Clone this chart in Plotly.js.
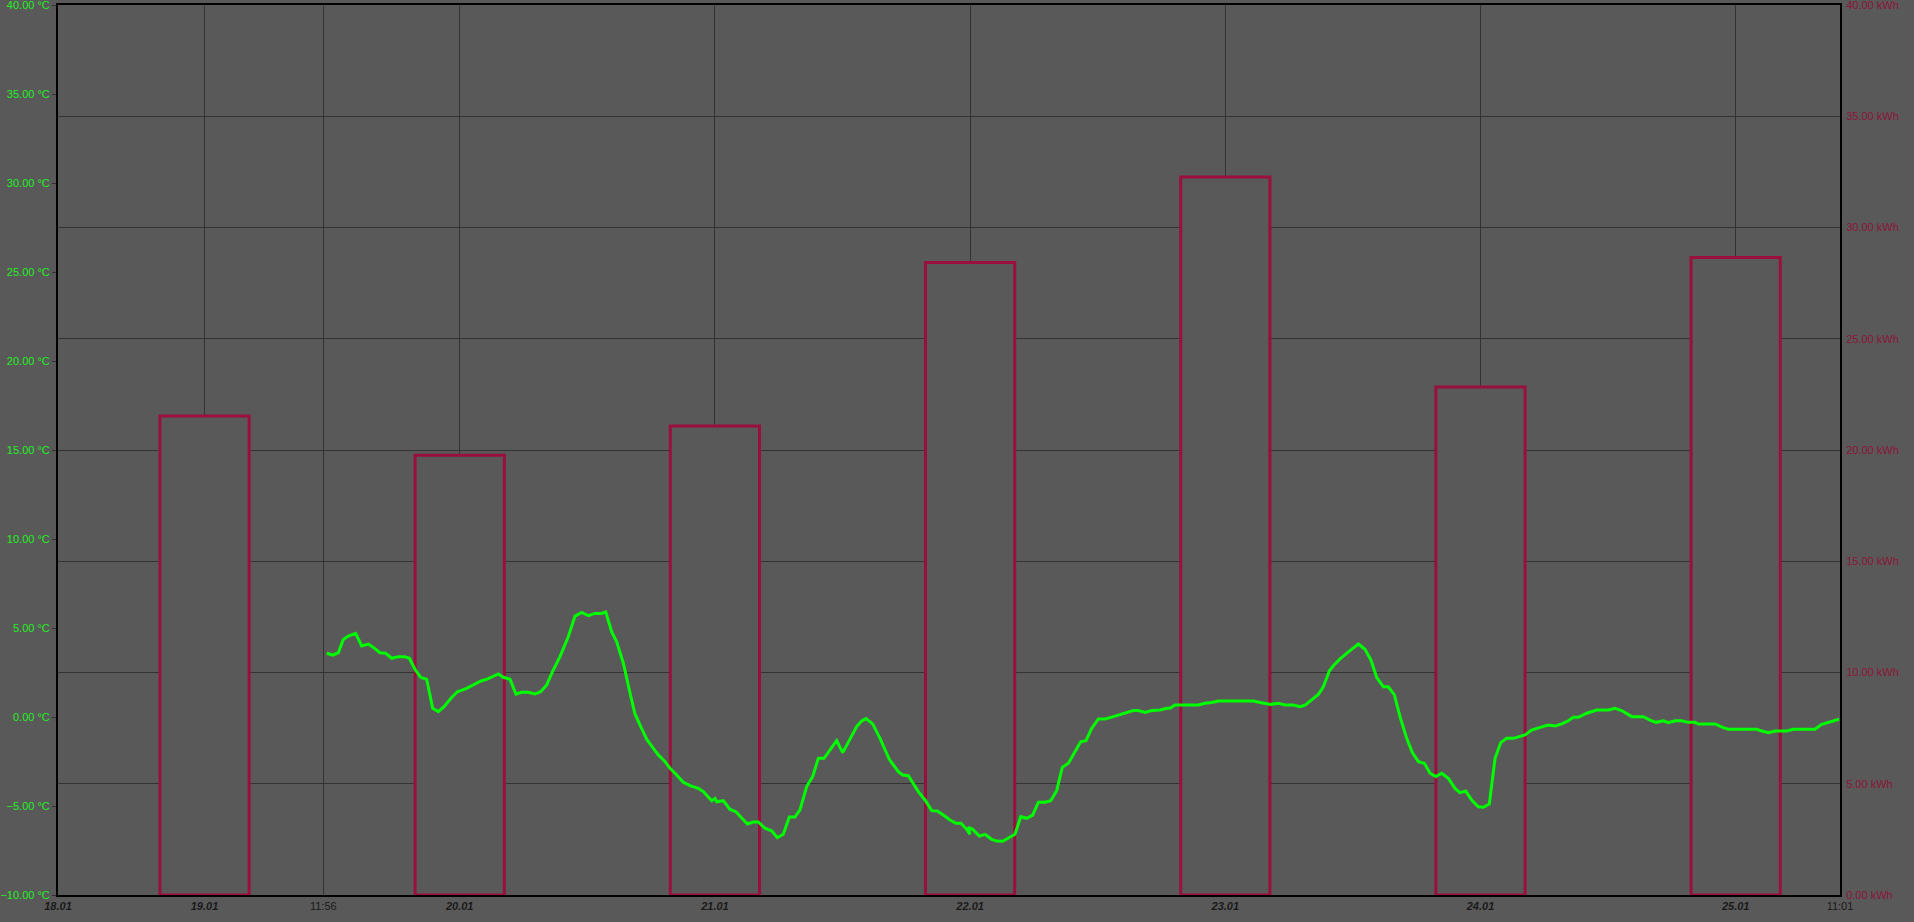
<!DOCTYPE html>
<html>
<head>
<meta charset="utf-8">
<script src="https://cdn.plot.ly/plotly-3.0.1.min.js"></script>
<style>
  html, body { margin: 0; padding: 0; background: #595959; }
  #chart { width: 1914px; height: 922px; }
</style>
</head>
<body>
<div id="chart"></div>
<script>
// X axis: hours since the start of the visible window (18.01 ... 11:01)
const tickHours  = [0, 13.78, 24.95, 37.78, 61.78, 85.78, 109.78, 133.78, 157.78, 167.59];
const tickLabels = ['<b><i>18.01</i></b>', '<b><i>19.01</i></b>', '11:56', '<b><i>20.01</i></b>',
                    '<b><i>21.01</i></b>', '<b><i>22.01</i></b>', '<b><i>23.01</i></b>',
                    '<b><i>24.01</i></b>', '<b><i>25.01</i></b>', '11:01'];

// Daily energy (kWh), one bar per day
const barDays   = ['19.01', '20.01', '21.01', '22.01', '23.01', '24.01', '25.01'];
const barHours  = [13.78, 37.78, 61.78, 85.78, 109.78, 133.78, 157.78];
const energyKWh = [21.53, 19.76, 21.08, 28.43, 32.27, 22.83, 28.65];

// Temperature (°C) over time (hours)
const tempHours = [
  25.27, 25.83, 26.36, 26.83, 27.30, 27.99, 28.56, 29.19, 29.66, 30.28, 30.82, 31.38, 32.01, 32.63, 33.04,
  33.57, 34.11, 34.67, 35.24, 35.77, 36.30, 37.02, 37.56, 38.43, 39.06, 39.84, 40.31, 40.94, 41.41, 41.88,
  42.51, 43.07, 43.61, 44.23, 44.86, 45.39, 45.96, 46.58, 47.21, 47.99, 48.62, 49.25, 49.88, 50.50, 51.13,
  51.51, 52.07, 52.54, 53.17, 53.73, 54.26, 54.74, 55.36, 55.99, 56.46, 57.09, 57.56, 58.18, 58.81, 59.44,
  60.22, 60.69, 61.48, 61.79, 61.95, 62.57, 63.20, 63.76, 64.30, 64.83, 65.39, 65.86, 66.49, 67.12, 67.65,
  68.21, 68.78, 69.31, 69.78, 70.41, 70.97, 71.51, 72.04, 72.60,
  73.23, 73.80, 74.48, 75.11, 75.58, 75.99, 76.62, 77.31, 78.18, 79.03, 79.44, 79.97, 80.91, 81.54, 82.17,
  82.70, 83.26, 83.89, 84.45, 84.92, 85.46, 85.77, 85.61, 86.02, 86.65, 87.18, 87.81, 88.28, 88.84, 89.47,
  90.00, 90.54, 91.10, 91.66, 92.20, 92.82, 93.36, 93.92, 94.45, 95.02, 95.65, 96.18, 96.68, 97.21, 97.84,
  98.47, 99.25, 100.19, 101.13, 101.60, 102.23, 102.86, 103.64, 104.27, 104.58, 105.05, 105.83, 107.24, 107.87, 108.50,
  109.13, 110.54, 112.42, 113.05, 113.67, 114.05, 114.77, 115.40, 116.18, 116.81, 117.28, 117.90, 118.53, 119.00, 119.56,
  119.94, 120.57,
  121.51, 122.29, 122.92, 123.48, 124.01, 124.64, 125.11, 125.68, 126.21, 126.84, 127.37, 127.94, 128.50, 129.03, 129.57,
  130.13, 130.76, 131.38, 131.85, 132.39, 132.95, 133.58, 134.05, 134.61, 135.15, 135.68, 136.24, 136.87, 137.97, 138.59,
  139.38, 140.16, 140.79, 141.42, 142.04, 142.51, 142.98, 143.77, 144.71, 145.81, 146.43, 147.06, 148.00, 149.10, 149.72,
  150.29, 150.98, 151.45, 152.07, 152.70, 153.33, 153.95, 154.27, 155.84, 156.62, 157.09, 157.72, 159.76, 160.23, 160.86,
  161.48, 162.58, 163.20, 165.24, 165.87, 166.81, 167.50
];
const tempValues = [
  3.58, 3.48, 3.61, 4.36, 4.55, 4.70, 3.99, 4.10, 3.91, 3.61, 3.58, 3.30, 3.39, 3.39, 3.30,
  2.68, 2.23, 2.12, 0.49, 0.30, 0.58, 1.10, 1.42, 1.61, 1.80, 2.04, 2.12, 2.30, 2.42, 2.23,
  2.12, 1.29, 1.39, 1.39, 1.29, 1.42, 1.80, 2.64, 3.39, 4.51, 5.67, 5.88, 5.69, 5.82, 5.82,
  5.90, 4.79, 4.23, 3.02, 1.52, 0.17, -0.45, -1.25, -1.76, -2.13, -2.51, -2.88, -3.26, -3.67, -3.86,
  -4.01, -4.19, -4.70, -4.57, -4.76, -4.70, -5.19, -5.32, -5.69, -6.01, -5.90, -5.90, -6.25, -6.39, -6.78,
  -6.59, -5.62, -5.62, -5.22, -3.91, -3.35, -2.32, -2.32, -1.82,
  -1.33, -2.00, -1.20, -0.54, -0.22, -0.09, -0.39, -1.20, -2.38, -3.07, -3.26, -3.30, -4.19, -4.66, -5.26,
  -5.28, -5.51, -5.79, -5.97, -5.97, -6.31, -6.59, -6.20, -6.31, -6.69, -6.59, -6.87, -6.97, -6.98, -6.78,
  -6.59, -5.60, -5.69, -5.51, -4.79, -4.79, -4.70, -4.14, -2.83, -2.60, -1.95, -1.39, -1.33, -0.64, -0.11,
  -0.11, 0.02, 0.17, 0.36, 0.36, 0.26, 0.36, 0.39, 0.49, 0.49, 0.67, 0.67, 0.67, 0.77, 0.81,
  0.90, 0.90, 0.90, 0.81, 0.77, 0.71, 0.77, 0.67, 0.67, 0.58, 0.67, 0.96, 1.27, 1.70, 2.58,
  2.88, 3.26,
  3.73, 4.10, 3.80, 3.20, 2.23, 1.70, 1.70, 1.24, 0.02, -1.20, -2.00, -2.51, -2.60, -3.16, -3.35,
  -3.16, -3.45, -4.01, -4.25, -4.16, -4.66, -5.04, -5.07, -4.89, -2.32, -1.44, -1.20, -1.20, -1.01, -0.73,
  -0.58, -0.45, -0.51, -0.39, -0.21, -0.02, -0.02, 0.21, 0.39, 0.39, 0.49, 0.36, 0.02, 0.02, -0.17,
  -0.30, -0.21, -0.32, -0.21, -0.21, -0.30, -0.30, -0.39, -0.39, -0.60, -0.69, -0.69, -0.69, -0.79, -0.88,
  -0.79, -0.79, -0.69, -0.69, -0.41, -0.26, -0.13
];

const BG = '#595959';
const GRID = '#333333';
const CRIMSON = '#9b0f3c';
const GREEN = '#00ff00';
const FONT = 'Liberation Sans, Arial, sans-serif';

const traces = [
  {
    type: 'bar',
    name: 'Energy',
    x: barHours,
    y: energyKWh,
    text: barDays,
    textposition: 'none',
    width: 8.39,
    xaxis: 'x',
    yaxis: 'y',
    marker: { color: BG, line: { color: CRIMSON, width: 3 } },
    hoverinfo: 'skip'
  },
  {
    type: 'scatter',
    mode: 'lines',
    name: 'Temperature',
    x: tempHours,
    y: tempValues,
    xaxis: 'x',
    yaxis: 'y2',
    line: { color: GREEN, width: 3, shape: 'linear' },
    hoverinfo: 'skip'
  }
];

const layout = {
  width: 1914,
  height: 922,
  margin: { l: 58, r: 74, t: 5, b: 27, pad: 0 },
  paper_bgcolor: BG,
  plot_bgcolor: BG,
  showlegend: false,
  bargap: 0,
  font: { family: FONT, size: 11, color: '#1a1a1a' },
  xaxis: {
    type: 'linear',
    range: [0, 167.59],
    tickmode: 'array',
    tickvals: tickHours,
    ticktext: tickLabels,
    showgrid: true,
    gridcolor: GRID,
    gridwidth: 1,
    zeroline: false,
    showline: true,
    linecolor: '#000000',
    linewidth: 2,
    mirror: true,
    ticks: '',
    ticklabeloverflow: 'allow',
    tickfont: { family: FONT, size: 11, color: '#1a1a1a' },
    fixedrange: true
  },
  yaxis: {
    range: [0, 40],
    side: 'right',
    tickmode: 'linear',
    tick0: 0,
    dtick: 5,
    tickformat: '.2f',
    ticksuffix: ' kWh',
    showgrid: true,
    gridcolor: GRID,
    gridwidth: 1,
    zeroline: false,
    showline: true,
    linecolor: '#000000',
    linewidth: 2,
    mirror: true,
    ticks: '',
    ticklabelstandoff: 2,
    ticklabeloverflow: 'allow',
    tickfont: { family: FONT, size: 11, color: '#8c1538' },
    fixedrange: true
  },
  yaxis2: {
    overlaying: 'y',
    side: 'left',
    range: [-10, 40],
    tickmode: 'linear',
    tick0: -10,
    dtick: 5,
    tickformat: '.2f',
    ticksuffix: ' °C',
    showgrid: false,
    zeroline: false,
    showline: true,
    linecolor: '#000000',
    linewidth: 2,
    ticks: 'outside',
    ticklen: 4,
    tickwidth: 1,
    tickcolor: '#333333',
    ticklabelstandoff: 0,
    ticklabeloverflow: 'allow',
    tickfont: { family: FONT, size: 11, color: '#22ee22' },
    fixedrange: true
  }
};

Plotly.newPlot('chart', traces, layout, { displayModeBar: false, staticPlot: true });
</script>
</body>
</html>
